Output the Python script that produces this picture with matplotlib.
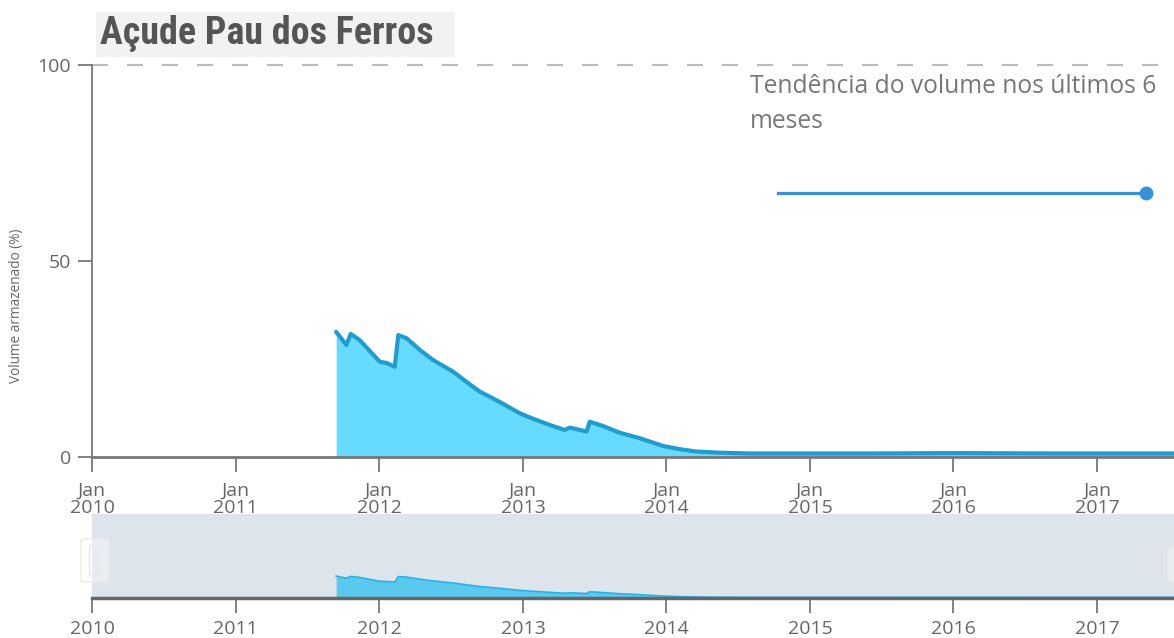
import matplotlib
matplotlib.use("Agg")
import matplotlib.pyplot as plt
from matplotlib.patches import Rectangle, FancyBboxPatch
import pandas as pd

# volume data
dates = ["2011-09-14", "2011-10-10", "2011-10-21", "2011-11-13", "2012-01-03",
         "2012-01-20", "2012-02-10", "2012-02-19", "2012-03-11", "2012-04-14",
         "2012-05-18", "2012-07-07", "2012-08-10", "2012-09-13", "2012-11-02",
         "2012-12-25", "2013-02-05", "2013-03-18", "2013-04-17", "2013-04-30",
         "2013-06-12", "2013-06-20", "2013-07-24", "2013-09-04", "2013-10-25",
         "2013-12-24", "2014-02-04", "2014-03-18", "2014-05-17", "2014-07-31",
         "2015-06-01", "2016-01-15", "2016-09-01", "2017-07-15"]
volume = [31.9, 28.6, 31.4, 29.8, 24.3,
          24.0, 23.0, 31.1, 30.3, 27.3,
          24.7, 21.8, 19.2, 16.7, 14.1,
          11.1, 9.4, 7.9, 6.9, 7.5,
          6.5, 9.0, 7.9, 6.2, 4.8,
          2.8, 2.0, 1.4, 1.1, 0.9,
          0.9, 1.0, 0.9, 0.9]

trend_dates = ["2014-10-11", "2017-05-05"]
trend_values = [67.3, 67.3]

years = list(range(2010, 2018))
y_ticks = [0, 50, 100]

x = pd.to_datetime(dates)
tx = pd.to_datetime(trend_dates)
xmin = pd.Timestamp("2010-01-01")
xmax = pd.Timestamp("2017-07-15")

W, H = 1174, 638
fig = plt.figure(figsize=(W / 100, H / 100), dpi=100)
plt.rcParams['font.family'] = ['Open Sans', 'DejaVu Sans']

grey = '#777777'
txt = '#666666'

def fx(px):
    return px / W

def fy(px):
    return 1 - px / H

#---------------main chart---------------#
ax = fig.add_axes([fx(92), fy(457), fx(1174 - 92), (457 - 65) / H])
ax.fill_between(x, volume, 0, color='#66dbff', lw=0)
ax.plot(x, volume, color='#1f9dd0', lw=3, solid_capstyle='round')
ax.plot(tx, trend_values, color='#3990d8', lw=2.3)
ax.plot(tx[-1:], trend_values[-1:], 'o', color='#3990d8', ms=9)
ax.axhline(100, color='#bbbbbb', lw=1.5, dashes=(7.7, 9.1), clip_on=False)

ax.set_xlim(xmin, xmax)
ax.set_ylim(0, 100)
ax.set_yticks(y_ticks)
ax.set_xticks([pd.Timestamp(f"{y}-01-01") for y in years])
ax.set_xticklabels([f"Jan\n{y}" for y in years], linespacing=0.95)
for s in ['top', 'right']:
    ax.spines[s].set_visible(False)
ax.spines['left'].set_color(grey)
ax.spines['left'].set_linewidth(1.3)
ax.spines['bottom'].set_color(grey)
ax.spines['bottom'].set_linewidth(2)
ax.tick_params(axis='y', length=10, width=1.3, color=grey, pad=5,
               labelsize=14, labelcolor=txt)
ax.tick_params(axis='x', length=11, width=1.3, color=grey, pad=7,
               labelsize=14, labelcolor=txt)
ax.set_facecolor('none')

ax.text(fx(750), fy(74), "Tendência do volume nos últimos 6\nmeses",
        transform=fig.transFigure, ha='left', va='top', fontsize=17.7,
        color='#777777', linespacing=1.53)

#---------------range slider---------------#
sl = fig.add_axes([fx(92), fy(598), fx(1174 - 92), (598 - 514) / H])
sl.set_facecolor('#dde4eb')
sl.fill_between(x, volume, 0, color='#5bc8ee', lw=0)
sl.plot(x, volume, color='#22b2e8', lw=1.2)
sl.set_xlim(xmin, xmax)
sl.set_ylim(0, 122)
sl.set_yticks([])
sl.set_xticks([pd.Timestamp(f"{y}-01-01") for y in years])
sl.set_xticklabels([str(y) for y in years])
for s in ['top', 'right', 'left']:
    sl.spines[s].set_visible(False)
sl.spines['bottom'].set_color('#666666')
sl.spines['bottom'].set_linewidth(2.5)
sl.tick_params(axis='x', length=11, width=1.3, color=grey, pad=5,
               labelsize=14, labelcolor=txt)

# slider handles
for x0, y0, x1, y1 in [(81, 539, 109, 582), (1168, 547, 1190, 582)]:
    fig.patches.append(FancyBboxPatch((fx(x0), fy(y1)), fx(x1 - x0), (y1 - y0) / H,
                                      boxstyle="round,pad=0,rounding_size=0.004",
                                      transform=fig.transFigure, fc=(1, 1, 1, 0.35),
                                      ec='#eaeaea', lw=1))
fig.patches.append(Rectangle((fx(89), fy(575)), fx(8), 30 / H, transform=fig.transFigure,
                             fc='none', ec='#e8e8e8', lw=1))

#---------------title + axis label---------------#
fig.patches.append(Rectangle((fx(96), fy(57)), fx(455 - 96), 45 / H,
                             transform=fig.transFigure, fc='#f2f2f2', ec='none'))
fig.text(fx(100), fy(34), "Açude Pau dos Ferros", ha='left', va='center',
         fontsize=27.4, fontweight='bold', color='#555555',
         family=['Liberation Sans Narrow', 'Roboto Condensed', 'DejaVu Sans'])

fig.text(fx(17), fy(306), "Volume armazenado (%)", rotation=90, ha='center',
         va='center', fontsize=9.8, color=txt)

plt.savefig('out.png', dpi=100)
